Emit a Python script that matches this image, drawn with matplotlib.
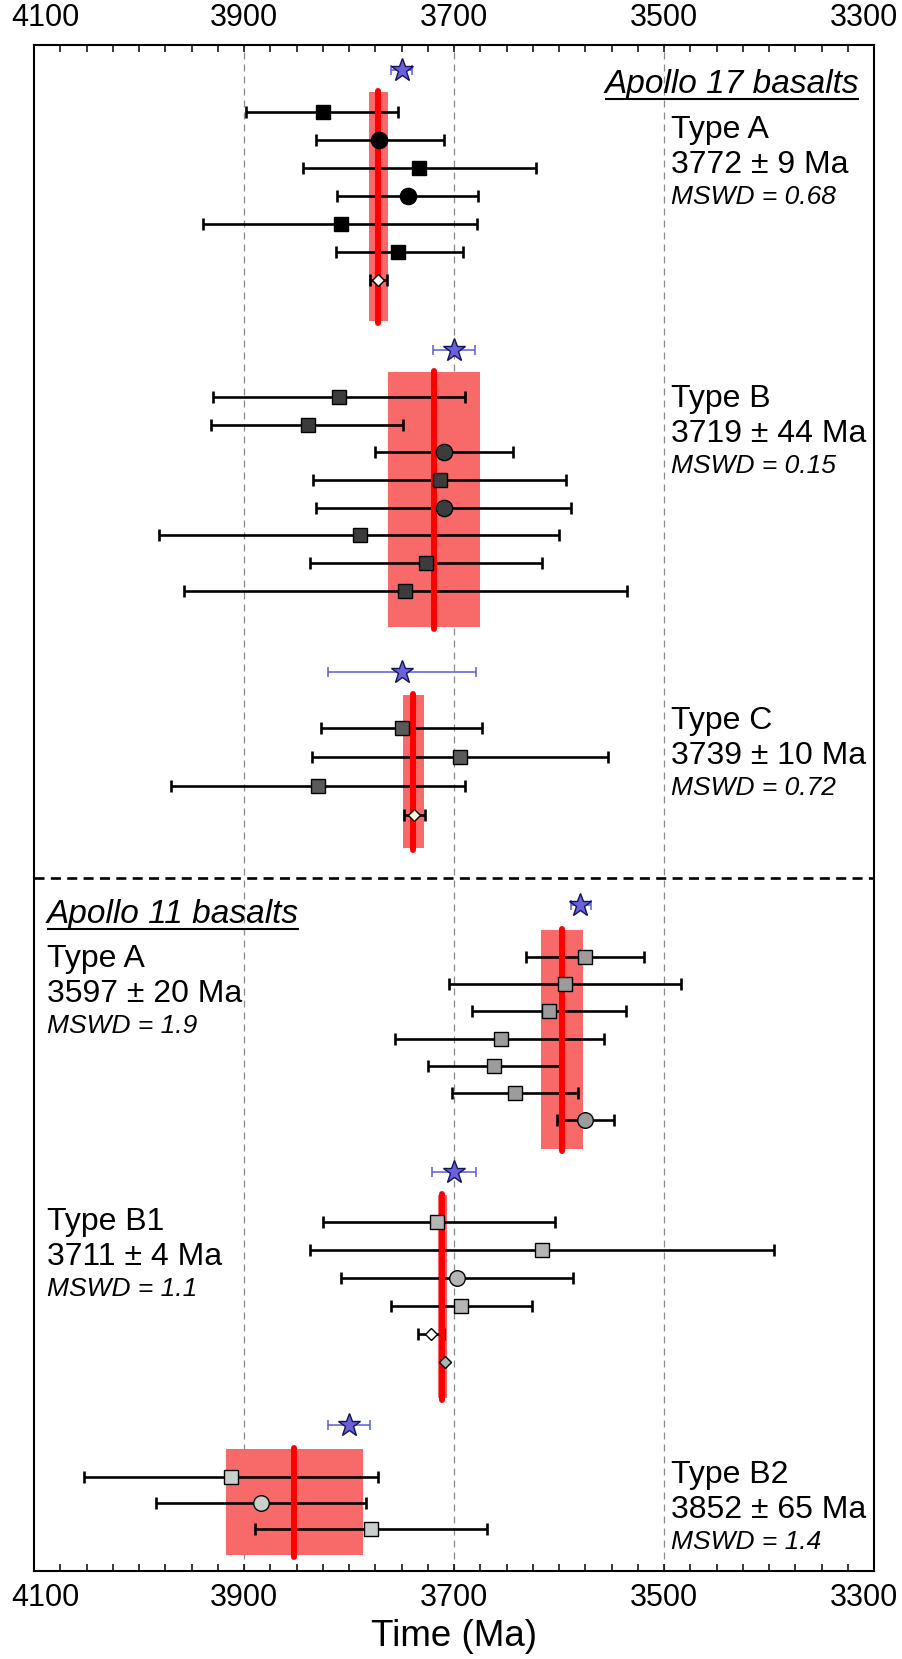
import matplotlib
matplotlib.use('Agg')
import matplotlib.pyplot as plt
import matplotlib.transforms as mtransforms
from matplotlib.patches import Rectangle

plt.rcParams['font.family'] = ['Liberation Sans', 'DejaVu Sans']

# ---------------- data (ages in Ma) ----------------
# Apollo 17, Type A
a17a_age = [3825, 3771, 3733, 3744, 3808, 3753]
a17a_old = [3898, 3831, 3844, 3811, 3939, 3812]
a17a_young = [3753, 3710, 3622, 3677, 3678, 3691]
a17a_mark = ['s', 'o', 's', 'o', 's', 's']
a17a_dia = [(3772, 3780, 3764, 'white')]
a17a_star = (3750, 3760, 3740)
a17a_mean = (3772, 9)
a17a_label = ['Type A', '3772 ± 9 Ma', 'MSWD = 0.68']

# Apollo 17, Type B
a17b_age = [3810, 3839, 3710, 3713, 3710, 3790, 3727, 3747]
a17b_old = [3930, 3931, 3775, 3834, 3831, 3981, 3837, 3957]
a17b_young = [3690, 3749, 3644, 3593, 3589, 3600, 3616, 3535]
a17b_mark = ['s', 's', 'o', 's', 'o', 's', 's', 's']
a17b_dia = []
a17b_star = (3700, 3720, 3680)
a17b_mean = (3719, 44)
a17b_label = ['Type B', '3719 ± 44 Ma', 'MSWD = 0.15']

# Apollo 17, Type C
a17c_age = [3750, 3694, 3830]
a17c_old = [3827, 3835, 3970]
a17c_young = [3673, 3553, 3690]
a17c_mark = ['s', 's', 's']
a17c_dia = [(3738, 3748, 3728, '#fffbe0')]
a17c_star = (3750, 3820, 3679)
a17c_mean = (3739, 10)
a17c_label = ['Type C', '3739 ± 10 Ma', 'MSWD = 0.72']

# Apollo 11, Type A
a11a_age = [3575, 3594, 3610, 3655, 3662, 3642, 3575]
a11a_old = [3631, 3705, 3683, 3756, 3725, 3702, 3602]
a11a_young = [3519, 3484, 3536, 3557, 3599, 3582, 3548]
a11a_mark = ['s', 's', 's', 's', 's', 's', 'o']
a11a_dia = []
a11a_star = (3580, 3589, 3570)
a11a_mean = (3597, 20)
a11a_label = ['Type A', '3597 ± 20 Ma', 'MSWD = 1.9']

# Apollo 11, Type B1
a11b1_age = [3716, 3616, 3697, 3693]
a11b1_old = [3825, 3837, 3808, 3760]
a11b1_young = [3604, 3395, 3587, 3626]
a11b1_mark = ['s', 's', 'o', 's']
a11b1_dia = [(3722, 3734, 3710, 'white'), (3709, 3709, 3709, '#a3babd')]
a11b1_star = (3700, 3721, 3679)
a11b1_mean = (3711, 4)
a11b1_label = ['Type B1', '3711 ± 4 Ma', 'MSWD = 1.1']

# Apollo 11, Type B2
a11b2_age = [3912, 3884, 3779]
a11b2_old = [4052, 3984, 3890]
a11b2_young = [3772, 3784, 3669]
a11b2_mark = ['s', 'o', 's']
a11b2_dia = []
a11b2_star = (3800, 3820, 3780)
a11b2_mean = (3852, 65)
a11b2_label = ['Type B2', '3852 ± 65 Ma', 'MSWD = 1.4']

x_ticks = [4100, 3900, 3700, 3500, 3300]
grid_x = [3900, 3700, 3500]

# ---------------- layout (vertical positions in pixel rows) ----------------
# star_y, first row, row step, band top, band bottom, face colour, marker size
groups = [
    (a17a_age, a17a_old, a17a_young, a17a_mark, a17a_dia, a17a_star, a17a_mean,
     (70, 112, 28.0, 92, 321), 'black', 10.5),
    (a17b_age, a17b_old, a17b_young, a17b_mark, a17b_dia, a17b_star, a17b_mean,
     (350, 397, 27.7, 372, 627), '#3c3c3c', 10.5),
    (a17c_age, a17c_old, a17c_young, a17c_mark, a17c_dia, a17c_star, a17c_mean,
     (672, 728, 29.0, 695, 848), '#5a5a5a', 10.5),
    (a11a_age, a11a_old, a11a_young, a11a_mark, a11a_dia, a11a_star, a11a_mean,
     (905, 957, 27.2, 930, 1149), '#9c9c9c', 10),
    (a11b1_age, a11b1_old, a11b1_young, a11b1_mark, a11b1_dia, a11b1_star, a11b1_mean,
     (1172, 1222, 28.0, 1195, 1398), '#b5b5b5', 10),
    (a11b2_age, a11b2_old, a11b2_young, a11b2_mark, a11b2_dia, a11b2_star, a11b2_mean,
     (1425, 1477, 26.2, 1449, 1555), '#c9cfcb', 10),
]

fig = plt.figure(figsize=(9.02, 16.59), dpi=100)
ax = fig.add_axes([34 / 902, 1 - 1571 / 1659, 840 / 902, 1526 / 1659])
ax.set_xlim(4100, 3300)
ax.set_ylim(1571, 45)

for gx in grid_x:
    ax.axvline(gx, color='#8a8a8a', lw=0.9, dashes=(5.6, 4), zorder=0)

band_c = '#f86a6a'
star_c = '#6a60d8'

for age, old, young, mark, dia, star, mean, lay, face, ms in groups:
    star_y, row0, step, btop, bbot = lay
    m, e = mean
    ax.add_patch(Rectangle((m - e, btop), 2 * e, bbot - btop, fc=band_c, ec='none', zorder=1))
    ax.plot([m, m], [btop - 1, bbot + 2], color='#ff0000', lw=4.3,
            solid_capstyle='round', zorder=3)

    ys = [row0 + step * i for i in range(len(age))]
    ax.errorbar(age, ys, xerr=[[a - y for a, y in zip(age, young)],
                               [o - a for a, o in zip(age, old)]],
                fmt='none', ecolor='black', elinewidth=1.9, capsize=4.3,
                capthick=1.9, zorder=2)
    for a, y, mk in zip(age, ys, mark):
        ax.plot(a, y, marker=mk, ms=ms if mk == 's' else ms + 1.2, mfc=face,
                mec='black', mew=1, ls='none', zorder=4)

    for j, (da, do, dy, dface) in enumerate(dia):
        y = row0 + step * (len(age) + j)
        if do != da:
            ax.errorbar([da], [y], xerr=[[da - dy], [do - da]], fmt='none',
                        ecolor='black', elinewidth=1.9, capsize=4.3,
                        capthick=1.9, zorder=2)
        ax.plot(da, y, marker='D', ms=6.5, mfc=dface, mec='black', mew=1,
                ls='none', zorder=4)

    sa, so, sy = star
    ax.errorbar([sa], [star_y], xerr=[[sa - sy], [so - sa]], fmt='none',
                ecolor='#5b5bdc', elinewidth=1.1, capsize=3.8, capthick=1.1, zorder=2)
    ax.plot(sa, star_y, marker='*', ms=17, mfc=star_c, mec='#14145a', mew=1,
            ls='none', zorder=4)

ax.axhline(878, color='black', lw=1.9, dashes=(3.8, 2.4), zorder=2)

# ---------------- labels ----------------
x_right = 3493
x_left = 4088


def block(x, base, lines):
    ax.text(x, base, lines[0], fontsize=23, ha='left', va='baseline')
    ax.text(x, base + 35, lines[1], fontsize=23, ha='left', va='baseline')
    ax.text(x, base + 66, lines[2], fontsize=19, style='italic', ha='left', va='baseline')


block(x_right, 138, a17a_label)
block(x_right, 407, a17b_label)
block(x_right, 729, a17c_label)
block(x_left, 967, a11a_label)
block(x_left, 1230, a11b1_label)
block(x_right, 1483, a11b2_label)

t17 = ax.text(3314, 93, 'Apollo 17 basalts', fontsize=24, style='italic',
              ha='right', va='baseline')
t11 = ax.text(x_left, 923, 'Apollo 11 basalts', fontsize=24, style='italic',
              ha='left', va='baseline')

# ---------------- axes styling ----------------
ax.set_xticks(x_ticks)
ax.set_xticks(range(3300, 4101, 25), minor=True)
ax.set_xticklabels([str(t) for t in x_ticks])
ax.set_yticks([])
ax.tick_params(axis='x', which='both', direction='in', top=True, bottom=True,
               labeltop=True, labelbottom=True, length=5, width=1.1)
ax.tick_params(axis='x', which='major', labelsize=22, pad=9)
for sp in ax.spines.values():
    sp.set_linewidth(1.5)
ax.set_xlabel('Time (Ma)', fontsize=26.5, labelpad=4)

ticks = ax.xaxis.get_major_ticks()
for tk, dx in ((ticks[0], 11), (ticks[-1], -10)):
    off = mtransforms.ScaledTranslation(dx / 100, 0, fig.dpi_scale_trans)
    tk.label1.set_transform(tk.label1.get_transform() + off)
    tk.label2.set_transform(tk.label2.get_transform() + off)

# underline the two section titles
fig.canvas.draw()
inv = ax.transData.inverted()
for t in (t17, t11):
    bb = t.get_window_extent()
    (x0, _), (x1, _) = inv.transform([(bb.x0, bb.y0), (bb.x1, bb.y0)])
    y_base = t.get_position()[1]
    ax.plot([x0, x1], [y_base + 6, y_base + 6], color='black', lw=1.5,
            solid_capstyle='butt', zorder=5)

fig.savefig('out.png', dpi=100)
